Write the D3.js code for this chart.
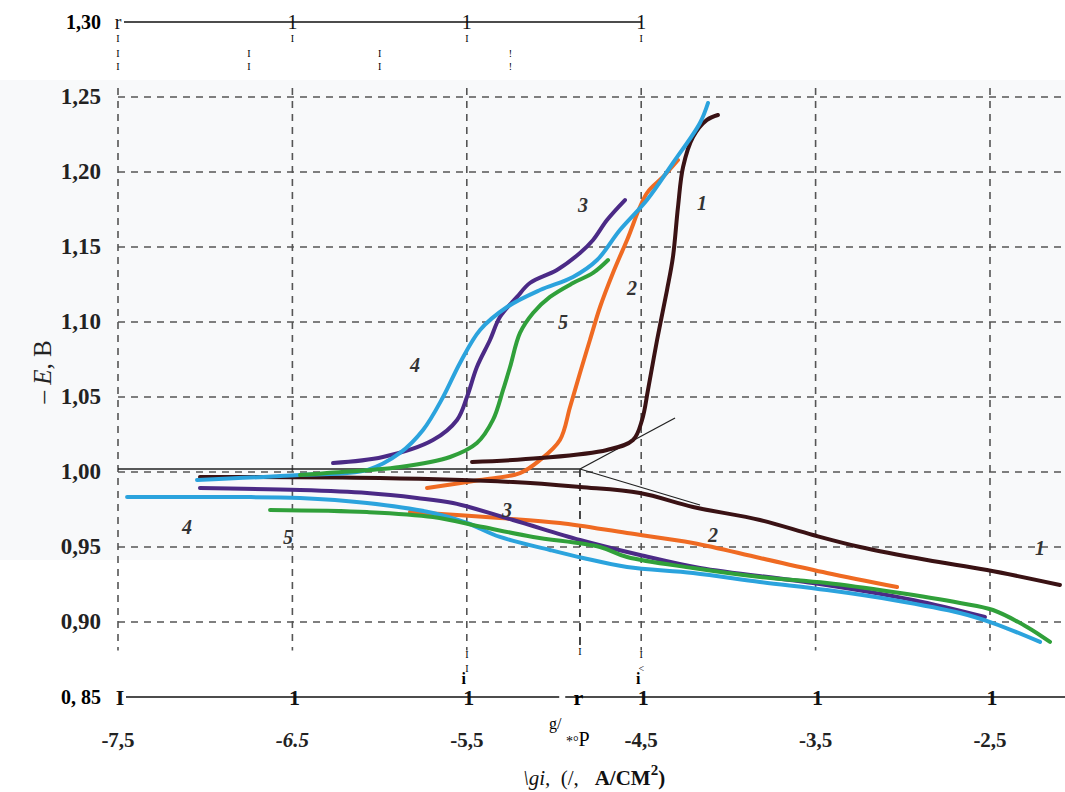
<!DOCTYPE html>
<html>
<head>
<meta charset="utf-8">
<script src="https://cdn.jsdelivr.net/npm/d3@7"></script>
<style>
  body { margin: 0; background: #fff; }
  text { font-family: "Liberation Serif", "DejaVu Serif", serif; }
</style>
</head>
<body>
<script>
// width & height of the page
const width = 1065
const height = 792

// x ticks (lg i) and y ticks (-E, V)
const xTicks = [-7.5, -6.5, -5.5, -4.5, -3.5, -2.5]
const xTickLabels = ["-7,5", "-6.5", "-5,5", "-4,5", "-3,5", "-2,5"]
const yTicks = [1.25, 1.20, 1.15, 1.10, 1.05, 1.00, 0.95, 0.90]
const yTickLabels = ["1,25", "1,20", "1,15", "1,10", "1,05", "1,00", "0,95", "0,90"]

// curve 1 (brown)
const c1Anodic = [[-5.470,1.0067],[-5.080,1.0093],[-4.696,1.0147],[-4.547,1.0213],[-4.495,1.0347],[-4.461,1.0547],[-4.409,1.088],[-4.352,1.1213],[-4.318,1.1433],[-4.289,1.1767],[-4.260,1.2033],[-4.203,1.2233],[-4.123,1.2347],[-4.060,1.238]]
const c1Cathodic = [[-7.030,0.9967],[-5.998,0.996],[-5.235,0.9933],[-4.851,0.990],[-4.507,0.986],[-4.203,0.9767],[-3.819,0.968],[-3.515,0.958],[-3.245,0.950],[-2.861,0.9413],[-2.517,0.9347],[-2.099,0.9247]]
// curve 2 (orange)
const c2Anodic = [[-5.728,0.9893],[-5.424,0.9947],[-5.195,0.9993],[-5.080,1.008],[-4.966,1.0213],[-4.908,1.0433],[-4.851,1.066],[-4.794,1.088],[-4.736,1.110],[-4.662,1.1327],[-4.581,1.1547],[-4.467,1.186],[-4.375,1.1967],[-4.289,1.208]]
const c2Cathodic = [[-5.826,0.9733],[-5.310,0.9693],[-4.966,0.966],[-4.581,0.9593],[-4.203,0.9527],[-3.819,0.9427],[-3.435,0.9327],[-3.033,0.9233]]
// curve 3 (purple)
const c3Anodic = [[-6.267,1.006],[-5.981,1.010],[-5.694,1.0213],[-5.556,1.0347],[-5.499,1.050],[-5.442,1.070],[-5.367,1.088],[-5.310,1.1033],[-5.212,1.1167],[-5.138,1.126],[-4.983,1.1347],[-4.851,1.146],[-4.776,1.1547],[-4.696,1.168],[-4.593,1.1813]]
const c3Cathodic = [[-7.030,0.9893],[-6.456,0.988],[-6.072,0.986],[-5.786,0.9827],[-5.579,0.9793],[-5.235,0.968],[-4.851,0.9547],[-4.507,0.9447],[-4.163,0.936],[-3.515,0.926],[-2.942,0.9147],[-2.529,0.9033]]
// curve 4 (light blue)
const c4Anodic = [[-7.047,0.9947],[-6.456,0.998],[-6.072,1.0013],[-5.883,1.0127],[-5.751,1.028],[-5.636,1.050],[-5.539,1.0727],[-5.424,1.0947],[-5.269,1.110],[-5.080,1.1213],[-4.891,1.130],[-4.753,1.1413],[-4.622,1.1613],[-4.467,1.1813],[-4.318,1.206],[-4.163,1.2327],[-4.117,1.246]]
const c4Cathodic = [[-7.448,0.9833],[-6.841,0.9833],[-6.456,0.9827],[-6.072,0.9793],[-5.694,0.9727],[-5.499,0.966],[-5.310,0.9567],[-5.023,0.948],[-4.834,0.9427],[-4.581,0.9367],[-4.203,0.9327],[-3.819,0.9267],[-3.435,0.9213],[-3.056,0.9147],[-2.672,0.906],[-2.483,0.8993],[-2.213,0.8867]]
// curve 5 (green)
const c5Anodic = [[-6.456,0.998],[-6.302,0.9993],[-5.883,1.0033],[-5.596,1.010],[-5.442,1.0193],[-5.350,1.0347],[-5.292,1.0547],[-5.252,1.070],[-5.195,1.0927],[-5.120,1.106],[-5.023,1.1167],[-4.891,1.126],[-4.776,1.1327],[-4.690,1.1413]]
const c5Cathodic = [[-6.628,0.9747],[-6.072,0.9733],[-5.694,0.970],[-5.407,0.9633],[-5.120,0.9567],[-4.736,0.950],[-4.581,0.9433],[-4.203,0.936],[-3.819,0.930],[-3.435,0.926],[-3.056,0.920],[-2.672,0.9127],[-2.483,0.908],[-2.288,0.8967],[-2.156,0.8867]]

// tafel extrapolation (thin black)
const corrPoint = [-4.851, 1.002]
const tangentAnodic = [[-4.851,1.002],[-4.306,1.036]]
const tangentCathodic = [[-4.851,1.002],[-4.163,0.978]]

// curve numbers [label, x, E]
const curveLabels = [["1",-4.151,1.1747],["1",-2.213,0.9447],["2",-4.553,1.118],["2",-4.088,0.9533],
  ["3",-4.834,1.1733],["3",-5.270,0.970],["4",-5.797,1.0667],["4",-7.104,0.9587],
  ["5",-4.948,1.0953],["5",-6.525,0.952]]

var x = d3.scaleLinear().domain([-7.5, -2.5]).range([118, 990])
var y = d3.scaleLinear().domain([1.25, 0.90]).range([97, 622])

var svg = d3.select("body")
            .append("svg")
            .attr("width", width)
            .attr("height", height)

// faint scanned background
svg.append("rect")
   .attr("x", 0).attr("y", 80)
   .attr("width", width).attr("height", 480)
   .attr("fill", "#f8f9fa")

// grid
svg.append("g")
   .selectAll("line")
   .data(xTicks)
   .enter()
   .append("line")
   .attr("x1", d => x(d)).attr("x2", d => x(d))
   .attr("y1", y(1.256)).attr("y2", y(0.881))
   .attr("stroke", "#555")
   .attr("stroke-width", 1.6)
   .attr("stroke-dasharray", "7,6")

svg.append("g")
   .selectAll("line")
   .data(yTicks)
   .enter()
   .append("line")
   .attr("x1", x(-7.5)).attr("x2", width)
   .attr("y1", d => y(d)).attr("y2", d => y(d))
   .attr("stroke", "#555")
   .attr("stroke-width", 1.6)
   .attr("stroke-dasharray", "7,6")

// y tick labels
svg.append("g")
   .selectAll("text")
   .data(yTicks)
   .enter()
   .append("text")
   .attr("x", 101)
   .attr("y", d => y(d) + 7)
   .attr("text-anchor", "end")
   .attr("font-size", "23px")
   .attr("font-weight", "bold")
   .attr("fill", "#222")
   .text((d, i) => yTickLabels[i])

// y title (sits left of the tick labels, between 1,10 and 1,05)
svg.append("text")
   .attr("transform", "translate(51," + y(1.0667) + ") rotate(-90)")
   .attr("text-anchor", "middle")
   .attr("font-size", "25px")
   .attr("fill", "#222")
   .html("&#8211; <tspan font-style='italic'>E</tspan>, B")

// top frame (1,30)
svg.append("text")
   .attr("x", 101).attr("y", y(1.30) + 7)
   .attr("text-anchor", "end")
   .attr("font-size", "20px").attr("font-weight", "bold")
   .text("1,30")
svg.append("line")
   .attr("x1", x(-7.5) + 6).attr("x2", x(-4.5))
   .attr("y1", y(1.30)).attr("y2", y(1.30))
   .attr("stroke", "#111").attr("stroke-width", 1.4)
svg.append("g")
   .selectAll("text")
   .data(["r", "1", "1", "1"])
   .enter()
   .append("text")
   .attr("x", (d, i) => x(xTicks[i]))
   .attr("y", y(1.30) + 7)
   .attr("text-anchor", "middle")
   .attr("font-size", "20px")
   .attr("fill", "#111")
   .text(d => d)
svg.append("g")
   .selectAll("text")
   .data(xTicks.slice(0, 4))
   .enter()
   .append("text")
   .attr("x", d => x(d)).attr("y", y(1.30) + 20)
   .attr("text-anchor", "middle")
   .attr("font-size", "10px")
   .text("I")
svg.append("g")
   .selectAll("text")
   .data([-7.5, -6.75, -6.0, -5.25])
   .enter()
   .append("text")
   .attr("x", d => x(d)).attr("y", y(1.30) + 35)
   .attr("text-anchor", "middle")
   .attr("font-size", "10px")
   .text((d, i) => i == 3 ? "!" : "I")
svg.append("g")
   .selectAll("text")
   .data([-7.5, -6.75, -6.0, -5.25])
   .enter()
   .append("text")
   .attr("x", d => x(d)).attr("y", y(1.30) + 48)
   .attr("text-anchor", "middle")
   .attr("font-size", "10px")
   .text((d, i) => i == 3 ? "!" : "I")

// bottom frame (0,85)
svg.append("text")
   .attr("x", 101).attr("y", y(0.85) + 7)
   .attr("text-anchor", "end")
   .attr("font-size", "20px").attr("font-weight", "bold")
   .text("0, 85")
svg.append("line")
   .attr("x1", x(-7.5) + 8).attr("x2", width)
   .attr("y1", y(0.85)).attr("y2", y(0.85))
   .attr("stroke", "#111").attr("stroke-width", 1.4)
svg.append("g")
   .selectAll("text")
   .data(xTicks)
   .enter()
   .append("text")
   .attr("x", d => x(d) + 2)
   .attr("y", y(0.85) + 8)
   .attr("text-anchor", "middle")
   .attr("font-size", "22px")
   .attr("font-weight", "bold")
   .attr("fill", "#111")
   .text((d, i) => i == 0 ? "I" : "1")
svg.append("rect")
   .attr("x", x(-4.97)).attr("y", y(0.85) - 3)
   .attr("width", 6).attr("height", 6).attr("fill", "#fff")
svg.append("text")
   .attr("x", x(-4.86)).attr("y", y(0.85) + 8)
   .attr("text-anchor", "middle")
   .attr("font-size", "22px").attr("font-weight", "bold")
   .text("r")
svg.append("g")
   .selectAll("text")
   .data([-5.5, -4.5])
   .enter()
   .append("text")
   .attr("x", d => x(d) - 3).attr("y", y(0.85) - 13)
   .attr("text-anchor", "middle")
   .attr("font-size", "16px").attr("font-weight", "bold")
   .text("i")
svg.append("g")
   .selectAll("text")
   .data([[-5.5,"I",0.876],[-5.5,"I",0.867],[-4.5,"I",0.876],[-4.5,"<",0.867],[-4.851,"I",0.878]])
   .enter()
   .append("text")
   .attr("x", d => x(d[0])).attr("y", d => y(d[2]))
   .attr("text-anchor", "middle")
   .attr("font-size", "10px")
   .text(d => d[1])

// x tick labels
svg.append("g")
   .selectAll("text")
   .data(xTicks)
   .enter()
   .append("text")
   .attr("x", d => x(d))
   .attr("y", 747)
   .attr("text-anchor", "middle")
   .attr("font-size", "21px")
   .attr("font-weight", "bold")
   .attr("font-style", (d, i) => i == 1 ? "italic" : "normal")
   .attr("fill", "#222")
   .text((d, i) => xTickLabels[i])

svg.append("text")
   .attr("x", 549).attr("y", 729)
   .attr("font-size", "16px")
   .text("g/")
svg.append("text")
   .attr("x", 566).attr("y", 746)
   .attr("font-size", "20px")
   .html("<tspan font-size='14px'>*°</tspan>P")

// x title
svg.append("text")
   .attr("x", 594).attr("y", 785)
   .attr("text-anchor", "middle")
   .attr("font-size", "21px")
   .attr("fill", "#111")
   .html("<tspan font-style='italic'>\\gi,</tspan>&#160;&#160;(/,&#160;&#160;&#160;<tspan font-weight='bold'>A/CM</tspan><tspan font-weight='bold' dy='-10' font-size='15px'>2</tspan><tspan dy='10' font-weight='bold'>)</tspan>")

// tafel construction lines
var line = d3.line().x(d => x(d[0])).y(d => y(d[1]))
svg.append("line")
   .attr("x1", x(-7.5)).attr("x2", x(corrPoint[0]))
   .attr("y1", y(corrPoint[1])).attr("y2", y(corrPoint[1]))
   .attr("stroke", "#222").attr("stroke-width", 1.3)
svg.append("line")
   .attr("x1", x(corrPoint[0])).attr("x2", x(corrPoint[0]))
   .attr("y1", y(corrPoint[1])).attr("y2", y(0.881))
   .attr("stroke", "#333").attr("stroke-width", 1.8)
   .attr("stroke-dasharray", "8,6")
svg.append("path").attr("d", line(tangentAnodic))
   .attr("fill", "none").attr("stroke", "#222").attr("stroke-width", 1.3)
svg.append("path").attr("d", line(tangentCathodic))
   .attr("fill", "none").attr("stroke", "#222").attr("stroke-width", 1.3)

// polarization curves
var curve = d3.line().x(d => x(d[0])).y(d => y(d[1])).curve(d3.curveCatmullRom)
var curves = [
  [c2Anodic, "#ef6a22"], [c2Cathodic, "#ef6a22"],
  [c1Anodic, "#3a1214"], [c1Cathodic, "#3a1214"],
  [c3Anodic, "#4b2a86"], [c3Cathodic, "#4b2a86"],
  [c4Anodic, "#2ba3dd"], [c4Cathodic, "#2ba3dd"],
  [c5Anodic, "#30a03a"], [c5Cathodic, "#30a03a"]
]
svg.append("g")
   .selectAll("path")
   .data(curves)
   .enter()
   .append("path")
   .attr("d", d => curve(d[0]))
   .attr("fill", "none")
   .attr("stroke", d => d[1])
   .attr("stroke-width", 4)
   .attr("stroke-linecap", "round")
   .attr("stroke-linejoin", "round")

// curve numbers
svg.append("g")
   .selectAll("text")
   .data(curveLabels)
   .enter()
   .append("text")
   .attr("x", d => x(d[1]))
   .attr("y", d => y(d[2]))
   .attr("text-anchor", "middle")
   .attr("font-size", "20px")
   .attr("font-style", "italic")
   .attr("font-weight", "bold")
   .attr("fill", "#333")
   .text(d => d[0])
</script>
</body>
</html>
